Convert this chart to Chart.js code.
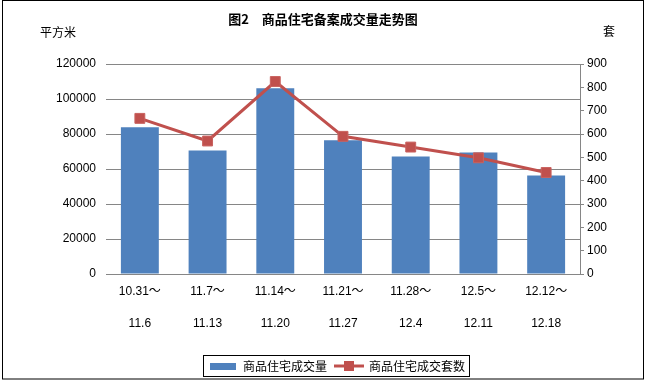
<!DOCTYPE html>
<html>
<head>
<meta charset="utf-8">
<script src="https://cdn.jsdelivr.net/npm/chart.js@4/dist/chart.umd.min.js"></script>
<style>
  html, body { margin: 0; padding: 0; background: #fff; }
  canvas { display: block; }
</style>
</head>
<body>
<canvas id="myChart" width="647" height="382"></canvas>
<script>
// data
const categories = [
    ['10.31～', '11.6'],
    ['11.7～', '11.13'],
    ['11.14～', '11.20'],
    ['11.21～', '11.27'],
    ['11.28～', '12.4'],
    ['12.5～', '12.11'],
    ['12.12～', '12.18']
];
const areaValues = [83800, 70600, 106200, 76400, 67200, 69500, 56300];
const unitValues = [667, 570, 825, 590, 544, 498, 435];
const areaTicks = [0, 20000, 40000, 60000, 80000, 100000, 120000];
const unitTicks = [0, 100, 200, 300, 400, 500, 600, 700, 800, 900];

const barColor = '#4F81BD';
const lineColor = '#C0504D';
const gridColor = '#868686';
const fontFamily = '"Liberation Sans", "Noto Sans CJK SC", sans-serif';
const cjkFont = '"Noto Sans CJK SC", sans-serif';

// legend icons
function barIcon() {
    const c = document.createElement('canvas');
    c.width = 26; c.height = 7;
    const x = c.getContext('2d');
    x.fillStyle = barColor;
    x.fillRect(0, 0, 26, 7);
    return c;
}
function lineIcon() {
    const c = document.createElement('canvas');
    c.width = 30; c.height = 10;
    const x = c.getContext('2d');
    x.strokeStyle = lineColor;
    x.lineWidth = 3;
    x.beginPath(); x.moveTo(0, 5); x.lineTo(30, 5); x.stroke();
    x.fillStyle = lineColor;
    x.fillRect(10, 0, 10, 10);
    return c;
}

const decor = {
    id: 'decor',
    afterDraw(chart) {
        const ctx = chart.ctx;
        ctx.save();
        // outer frame
        ctx.strokeStyle = '#000';
        ctx.lineWidth = 1;
        ctx.strokeRect(2.5, 0.5, 641, 378.5);
        // title
        ctx.fillStyle = '#000';
        ctx.textBaseline = 'middle';
        ctx.textAlign = 'center';
        ctx.font = 'bold 13px ' + cjkFont;
        ctx.fillText('图2　商品住宅备案成交量走势图', 323, 19);
        ctx.font = '12px ' + cjkFont;
        ctx.textAlign = 'left';
        ctx.fillText('平方米', 40, 32);
        ctx.fillText('套', 603, 31);
        // legend frame
        const boxes = chart.legend.legendHitBoxes;
        if (boxes && boxes.length) {
            let l = Infinity, r = -Infinity, t = Infinity, b = -Infinity;
            boxes.forEach(h => {
                l = Math.min(l, h.left); r = Math.max(r, h.left + h.width);
                t = Math.min(t, h.top); b = Math.max(b, h.top + h.height);
            });
            ctx.strokeRect(Math.round(l) - 5.5, Math.round(t) - 4.5, Math.round(r - l) + 10, Math.round(b - t) + 9);
        }
        ctx.restore();
    }
};

const ctx_ = document.getElementById('myChart').getContext('2d');

const myChart = new Chart(ctx_, {
    type: 'bar',
    data: {
        labels: categories,
        datasets: [{
            type: 'line',
            label: '商品住宅成交套数',
            data: unitValues,
            yAxisID: 'y1',
            borderColor: lineColor,
            backgroundColor: lineColor,
            borderWidth: 3,
            pointStyle: 'rect',
            pointRadius: 7,
            pointBorderColor: '#C9625F',
            pointBorderWidth: 1,
            tension: 0,
            order: 0
        }, {
            label: '商品住宅成交量',
            data: areaValues,
            yAxisID: 'y',
            backgroundColor: barColor,
            barPercentage: 0.56,
            categoryPercentage: 1,
            order: 1
        }]
    },
    options: {
        responsive: false,
        animation: false,
        layout: { padding: { left: 27, right: 0, top: 64, bottom: 0 } },
        plugins: {
            title: { display: false },
            tooltip: { enabled: false },
            legend: {
                position: 'bottom',
                labels: {
                    usePointStyle: true,
                    pointStyleWidth: 28,
                    padding: 8,
                    color: '#000',
                    font: { family: cjkFont, size: 12 },
                    generateLabels() {
                        return [
                            { text: '商品住宅成交量', pointStyle: barIcon(), fillStyle: barColor, strokeStyle: barColor, lineWidth: 0, hidden: false, datasetIndex: 1, fontColor: '#000' },
                            { text: '商品住宅成交套数', pointStyle: lineIcon(), fillStyle: lineColor, strokeStyle: lineColor, lineWidth: 0, hidden: false, datasetIndex: 0, fontColor: '#000' }
                        ];
                    }
                }
            }
        },
        scales: {
            x: {
                grid: { display: false, drawTicks: false },
                border: { display: true, color: gridColor },
                ticks: {
                    color: '#000',
                    padding: 2,
                    maxRotation: 0,
                    autoSkip: false,
                    font: { family: fontFamily, size: 12, lineHeight: '32px' }
                },
                afterFit(scale) { scale.height = 78; }
            },
            y: {
                position: 'left',
                min: 0,
                max: 120000,
                afterBuildTicks(scale) { scale.ticks = areaTicks.map(v => ({ value: v })); },
                grid: { color: gridColor, drawTicks: false },
                border: { display: false },
                ticks: {
                    color: '#000',
                    padding: 10,
                    font: { family: fontFamily, size: 12 },
                    callback: v => String(v)
                },
                afterFit(scale) { scale.width = 79; }
            },
            y1: {
                position: 'right',
                min: 0,
                max: 900,
                afterBuildTicks(scale) { scale.ticks = unitTicks.map(v => ({ value: v })); },
                grid: { drawOnChartArea: false, drawTicks: true, tickLength: 4, color: gridColor },
                border: { display: true, color: gridColor },
                ticks: {
                    color: '#000',
                    padding: 3,
                    font: { family: fontFamily, size: 12 },
                    callback: v => String(v)
                },
                afterFit(scale) { scale.width = 67; }
            }
        }
    },
    plugins: [decor]
});
</script>
</body>
</html>
